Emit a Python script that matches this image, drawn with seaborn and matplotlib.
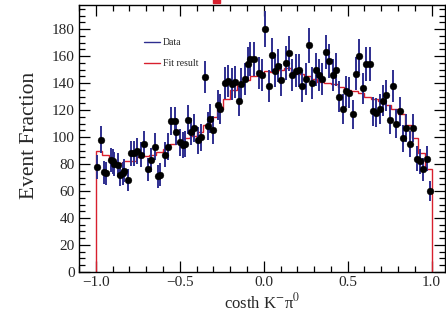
import numpy as np
import pandas as pd
import matplotlib
matplotlib.use("Agg")
import matplotlib.pyplot as plt
import seaborn as sns
from matplotlib.ticker import MultipleLocator
from matplotlib.lines import Line2D
from matplotlib.patches import Rectangle

# ---- data ----
data_x = [-0.99, -0.97, -0.95, -0.94, -0.91, -0.90, -0.89, -0.87, -0.855, -0.84,
          -0.83, -0.81, -0.79, -0.77, -0.755, -0.73, -0.71, -0.69, -0.67, -0.65,
          -0.63, -0.62, -0.59, -0.57, -0.55, -0.53, -0.52, -0.50, -0.48, -0.47,
          -0.45, -0.435, -0.415, -0.39, -0.375, -0.35, -0.33, -0.317, -0.30, -0.27,
          -0.26, -0.23, -0.21, -0.19, -0.17, -0.15, -0.135, -0.11, -0.095, -0.08,
          -0.06, -0.03, -0.01,
          0.01, 0.03, 0.05, 0.065, 0.085, 0.105, 0.13, 0.15, 0.17, 0.195,
          0.21, 0.23, 0.25, 0.27, 0.29, 0.31, 0.33, 0.35, 0.37, 0.39,
          0.41, 0.43, 0.45, 0.47, 0.49, 0.51, 0.53, 0.55, 0.57, 0.59,
          0.61, 0.63, 0.65, 0.67, 0.69, 0.71, 0.73, 0.75, 0.77, 0.79,
          0.81, 0.83, 0.85, 0.87, 0.89, 0.91, 0.93, 0.95, 0.97, 0.99]
data_y = [78, 98, 74, 73, 83, 82, 80, 79, 72, 73,
          75, 68, 88, 88, 89.5, 87, 95, 76, 83, 93,
          71, 72, 87, 93, 112, 112, 104, 96, 94, 95,
          113, 104, 107, 97.5, 100, 144.6, 108, 113.6, 105, 123.5,
          121, 140, 141.6, 139.6, 140.8, 126.7, 139.6, 143, 154, 158,
          158, 147.5, 146,
          180, 138, 161, 149, 153, 142, 155, 162, 146, 149,
          149.6, 138, 143, 168, 140, 150, 146, 143, 163, 156.5,
          146, 150, 130, 121, 134, 133, 117, 147, 160, 136,
          154, 154, 119, 118, 121, 127, 131, 113, 138, 110,
          119, 99, 107, 95, 107, 84, 82, 76, 84, 60]

fit_edges = [round(-1.0 + 0.04 * i, 2) for i in range(51)]
fit_values = [90, 87, 82, 81, 82, 82, 85, 86, 87, 89,
              91, 95, 96, 99, 101, 104, 109, 115, 121, 128,
              135, 139, 142, 145, 147, 149, 148, 150, 151, 148,
              147, 145, 143, 141, 140, 139, 137, 135, 134, 133,
              130, 128, 127, 124, 121, 117, 109, 99, 88, 76]

x_ticks = [-1.0, -0.5, 0.0, 0.5, 1.0]
x_tick_labels = ["\u22121.0", "\u22120.5", "0.0", "0.5", "1.0"]
y_ticks = [0, 20, 40, 60, 80, 100, 120, 140, 160, 180]

# ---- styling ----
sns.set_style("ticks")
plt.rcParams["font.family"] = ["Liberation Serif", "DejaVu Serif"]
plt.rcParams["mathtext.fontset"] = "stix"

navy = "#2e2e8f"
red = "#d8202e"

fig = plt.figure(figsize=(4.46, 3.23), dpi=100)
ax = fig.add_axes([0.177, 0.158, 0.821, 0.827])

# fit result as a step histogram dropping to zero at both ends
ax.stairs(fit_values, fit_edges, baseline=0, color=red, linewidth=1.0, zorder=1)

df = pd.DataFrame({"x": data_x, "y": data_y})
ax.errorbar(df["x"], df["y"], yerr=np.sqrt(df["y"]), fmt="none",
            ecolor=navy, elinewidth=1.4, capsize=0, zorder=2)
sns.scatterplot(data=df, x="x", y="y", color="black", s=24, edgecolor="black",
                linewidth=0.3, ax=ax, zorder=3)

ax.set_xlim(-1.1, 1.08)
ax.set_ylim(0, 198)
ax.set_xticks(x_ticks)
ax.set_xticklabels(x_tick_labels)
ax.set_yticks(y_ticks)
ax.xaxis.set_minor_locator(MultipleLocator(0.1))
ax.yaxis.set_minor_locator(MultipleLocator(5))
ax.tick_params(which="both", direction="in", top=True, right=True,
               labelsize=11, color="black", width=0.9)
ax.tick_params(which="major", length=8, pad=3)
ax.tick_params(which="minor", length=4)
for s in ax.spines.values():
    s.set_color("black")
    s.set_linewidth(1.0)

ax.set_xlabel("costh K$^{-}$\u03c0$^{0}$", fontsize=12, labelpad=2)
ax.set_ylabel("Event Fraction", fontsize=15.5)
ax.yaxis.set_label_coords(-0.11, 0.51)

handles = [Line2D([], [], color=navy, lw=1.0), Line2D([], [], color=red, lw=1.0)]
ax.legend(handles, ["Data", "Fit result"], loc="upper left",
          bbox_to_anchor=(0.16, 0.9), frameon=False, fontsize=7,
          handlelength=1.6, handletextpad=0.3, labelspacing=1.2, borderpad=0.2)

# cropped red title fragment at the very top
fig.patches.append(Rectangle((0.478, 0.99), 0.015, 0.012, transform=fig.transFigure,
                             color=red, zorder=5))

fig.savefig("out.png", dpi=100)
